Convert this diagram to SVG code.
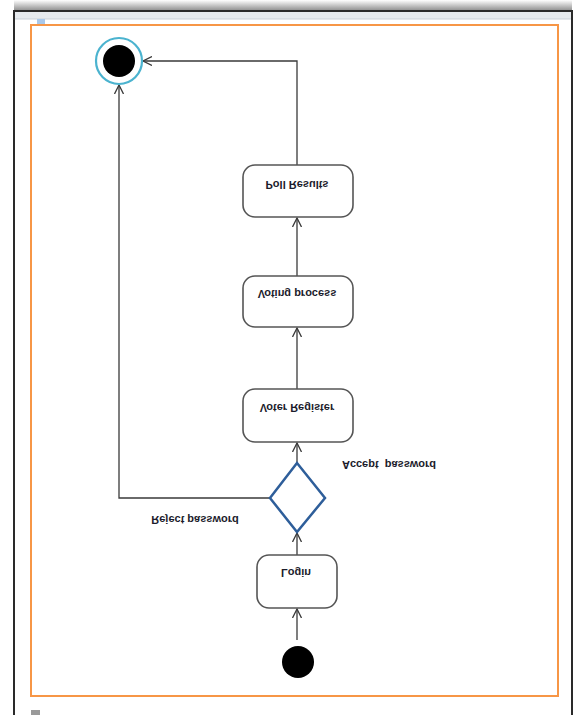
<svg xmlns="http://www.w3.org/2000/svg" width="577" height="715" viewBox="0 0 577 715">
<defs>
<linearGradient id="shadow" x1="0" y1="0" x2="0" y2="1">
<stop offset="0" stop-color="#ffffff"/>
<stop offset="1" stop-color="#8a8a8a"/>
</linearGradient>
<marker id="arr" viewBox="0 0 10 10" refX="9" refY="5" markerWidth="10" markerHeight="10" markerUnits="userSpaceOnUse" orient="auto">
<path d="M0,0.5 L9,5 L0,9.5" fill="none" stroke="#3a3a3a" stroke-width="1.3"/>
</marker>
</defs>
<style>
.box{fill:#ffffff;stroke:#555555;stroke-width:1.6}
.lbl{font-family:"Liberation Sans",Arial,sans-serif;font-size:11px;font-weight:bold;fill:#1c1c2c;text-anchor:middle;dominant-baseline:central}
.edge{fill:none;stroke:#3a3a3a;stroke-width:1.3}
</style>
<rect x="0" y="0" width="577" height="715" fill="#ffffff"/>
<rect x="14" y="0" width="558" height="11" fill="url(#shadow)"/>
<rect x="14" y="11" width="558" height="710" fill="#ffffff" stroke="#2a2a2a" stroke-width="2"/>
<rect x="15" y="12" width="556" height="7" fill="#e6eaee"/>
<line x1="15" y1="19" x2="571" y2="19" stroke="#c9d0d8" stroke-width="1"/>
<rect x="37" y="19" width="8" height="6" fill="#a9c8ea"/>
<rect x="31" y="25" width="527" height="671" fill="none" stroke="#f79646" stroke-width="2"/>
<rect x="31" y="710" width="9" height="5" fill="#9a9a9a"/>
<g id="connectors">
<path class="edge" d="M297,640 L297,609" marker-end="url(#arr)"/>
<path class="edge" d="M297,555 L297,533" marker-end="url(#arr)"/>
<path class="edge" d="M297,463 L297,443" marker-end="url(#arr)"/>
<path class="edge" d="M297,389 L297,328" marker-end="url(#arr)"/>
<path class="edge" d="M297,276 L297,218" marker-end="url(#arr)"/>
<path class="edge" d="M297,165 L297,61 L143,61" marker-end="url(#arr)"/>
<path class="edge" d="M270,498 L119,498 L119,85" marker-end="url(#arr)"/>
<text class="lbl" transform="translate(389,465) scale(1,-1)" style="white-space:pre">Accept  password</text>
<text class="lbl" transform="translate(195,520) scale(1,-1)">Reject password</text>
</g>
<g id="final">
<circle cx="119" cy="61" r="23" fill="#ffffff" stroke="#4bb3cf" stroke-width="2.2"/>
<circle cx="119" cy="61" r="16" fill="#000000"/>
</g>
<g id="poll">
<rect class="box" x="243" y="165" width="110" height="52" rx="12"/>
<text class="lbl" transform="translate(297,185) scale(1,-1)">Poll Results</text>
</g>
<g id="voting">
<rect class="box" x="243" y="276" width="110" height="51" rx="12"/>
<text class="lbl" transform="translate(297,294) scale(1,-1)">Voting process</text>
</g>
<g id="register">
<rect class="box" x="243" y="389" width="110" height="53" rx="12"/>
<text class="lbl" transform="translate(297,408) scale(1,-1)">Voter Register</text>
</g>
<g id="decision">
<polygon points="297,463 325,498 297,532 270,498" fill="#ffffff" stroke="#2e5e9a" stroke-width="2.5"/>
</g>
<g id="login">
<rect class="box" x="257" y="555" width="80" height="53" rx="12"/>
<text class="lbl" transform="translate(296,573) scale(1,-1)">Login</text>
</g>
<g id="start">
<circle cx="298" cy="662" r="16" fill="#000000"/>
</g>
</svg>
